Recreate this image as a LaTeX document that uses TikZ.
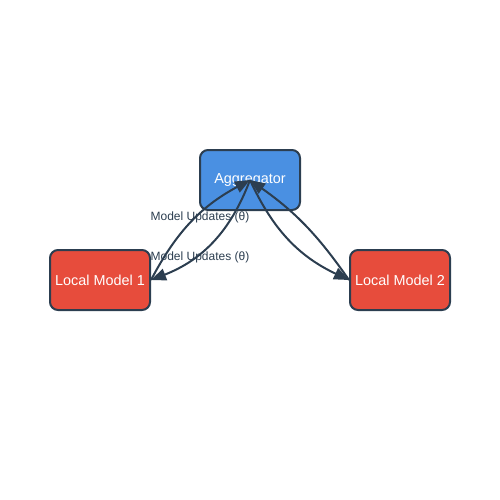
\documentclass[tikz,border=0pt]{standalone}
\usepackage{fontspec}
\setmainfont{Liberation Sans}
\usetikzlibrary{positioning,arrows.meta}
\definecolor{edgecol}{HTML}{2C3E50}
\definecolor{aggcol}{HTML}{4A90E2}
\definecolor{localcol}{HTML}{E74C3C}
\begin{document}
\begin{tikzpicture}
[x=1pt,y=-1pt,
 every node/.style={font=\fontsize{14.4}{16}\selectfont},
 box/.style={rectangle,draw=edgecol,line width=2pt,rounded corners=8pt,minimum width=100pt,minimum height=60pt,inner sep=0pt,text=white},
 agg/.style={box,fill=aggcol},
 local/.style={box,fill=localcol},
 lbl/.style={text=edgecol,font=\fontsize{12}{14}\selectfont,inner sep=0pt},
 upd/.style={color=edgecol,line width=2pt,-{Triangle[length=15pt,width=12pt]}}]
\useasboundingbox (0,0) rectangle (500,500);
\node[agg]   (agg) at (250,180)                                 {Aggregator};
\node[local] (lm1) [on grid,below  left=100pt and 150pt of agg] {Local Model 1};
\node[local] (lm2) [on grid,below right=100pt and 150pt of agg] {Local Model 2};
\node[lbl] (upd1) [on grid,below left=37pt and 50pt of agg] {Model Updates (θ)};
\node[lbl] (upd2) [on grid,below left=77pt and 50pt of agg] {Model Updates (θ)};
\path[upd] (agg.center) edge[bend left=24]  (lm1.east);
\path[upd] (lm1.east)   edge[bend left=17]  (agg.center);
\path[upd] (agg.center) edge[bend right=20] (lm2.west);
\path[upd] (lm2.west)   edge[bend right=10] (agg.center);
\end{tikzpicture}
\end{document}
